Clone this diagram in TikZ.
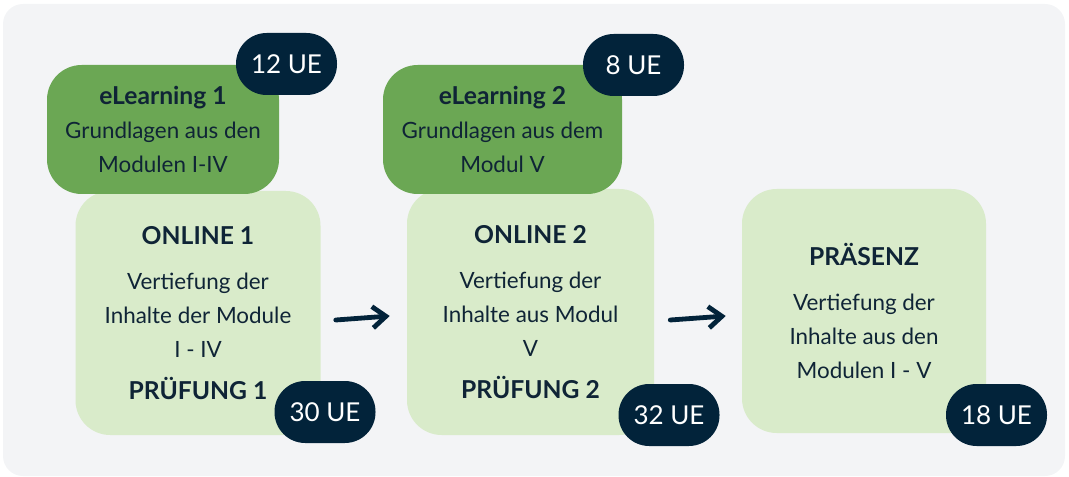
\documentclass[tikz,border=0pt]{standalone}
\usepackage{fontspec}
\setmainfont{Lato}
\usetikzlibrary{arrows.meta,positioning,calc}
\definecolor{bggray}{HTML}{F3F4F6}
\definecolor{darkgreen}{HTML}{6BA754}
\definecolor{lightgreen}{HTML}{D9EBCA}
\definecolor{navy}{HTML}{02233A}
\definecolor{inktext}{HTML}{0F2436}
\newcommand*{\boxtitle}[1]{{\fontsize{18.5}{25.5}\selectfont\bfseries #1}}

\begin{document}
\begin{tikzpicture}[x=0.75pt,y=-0.75pt,
  every node/.style={font=\fontsize{16.8}{25.5}\selectfont,text=inktext,align=center,inner sep=0pt},
  lightbox/.style={fill=lightgreen,rounded corners=26pt},
  learnbox/.style={fill=darkgreen,rounded corners=26pt},
  badge/.style={fill=navy,text=white,rounded corners=23pt,minimum width=75.75pt,minimum height=46.5pt,font=\fontsize{19.5}{20}\selectfont},
  flow/.style={line width=3.6pt,draw=navy,line cap=round,-{Straight Barb[length=10pt,width=16pt,line width=3.6pt]}}]
\useasboundingbox (0,0) rectangle (1069,477);
\fill[bggray,rounded corners=15pt] (3,4) rectangle (1065,476);
% main blocks
\node[lightbox,minimum width=183.75pt,minimum height=183pt] (online1) at (198,313)
  {\boxtitle{ONLINE 1}\\[8pt] Vertiefung der\\ Inhalte der Module\\ I - IV\\[6pt] \boxtitle{PRÜFUNG 1}};
\node[lightbox,minimum width=185.25pt,minimum height=184.5pt] (online2) at (530.5,312)
  {\boxtitle{ONLINE 2}\\[8pt] Vertiefung der\\ Inhalte aus Modul\\ V\\[6pt] \boxtitle{PRÜFUNG 2}};
\node[lightbox,minimum width=183pt,minimum height=183pt] (praesenz) at (864,311)
  {\boxtitle{PRÄSENZ}\\[8pt] Vertiefung der\\ Inhalte aus den\\ Modulen I - V};
% eLearning
\node[learnbox,minimum width=174pt,minimum height=96.75pt] (elearn1) at (163,129.5)
  {\boxtitle{eLearning 1}\\ Grundlagen aus den\\ Modulen I-IV};
\node[learnbox,minimum width=179.25pt,minimum height=96.75pt] (elearn2) at (502.5,129.5)
  {\boxtitle{eLearning 2}\\ Grundlagen aus dem\\ Modul V};
% hours
\node[badge] (ue1) at (286.5,64) {12 UE};
\node[badge] (ue2) at (633.5,65) {8 UE};
\node[badge] (ue3) at (325,412) {30 UE};
\node[badge] (ue4) at (669,415) {32 UE};
\node[badge] (ue5) at (996.5,415) {18 UE};
% arrows
\draw[flow] ($(online1.east)+(15,7)$) -- ($(online2.west)+(-17,4)$);
\draw[flow] ($(online2.east)+(16,8)$) -- ($(praesenz.west)+(-16,5)$);
\end{tikzpicture}
\end{document}
